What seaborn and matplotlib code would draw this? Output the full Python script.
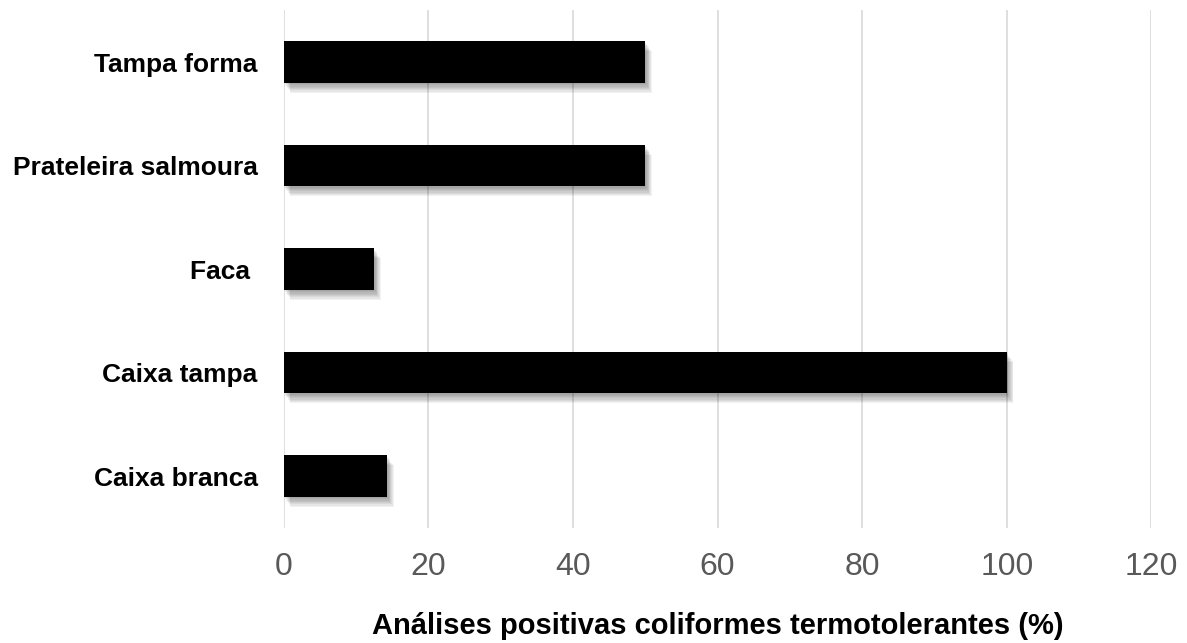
import matplotlib
matplotlib.use("Agg")
import matplotlib.pyplot as plt
import matplotlib.patheffects as pe
import seaborn as sns
import pandas as pd

categories = ["Tampa forma", "Prateleira salmoura", "Faca ", "Caixa tampa", "Caixa branca"]
values = [50.0, 50.0, 12.5, 100.0, 14.3]
x_ticks = [0, 20, 40, 60, 80, 100, 120]
x_label = "Análises positivas coliformes termotolerantes (%)"

sns.set_theme(style="white")
plt.rcParams["font.family"] = ["Liberation Sans", "DejaVu Sans"]

df = pd.DataFrame({"local": categories, "pct": values})

fig = plt.figure(figsize=(11.87, 6.43), dpi=100)
ax = fig.add_axes([0.239, 0.179, 0.731, 0.805])

sns.barplot(data=df, y="local", x="pct", orient="h", color="black",
            width=0.4, order=categories, ax=ax, zorder=3)

# soft, diffuse drop shadow under each bar
shadow = []
for k in range(8, 0, -1):
    shadow.append(pe.SimplePatchShadow(offset=(k * 0.6, -k * 0.9),
                                       shadow_rgbFace="#000000", alpha=0.05))
shadow.append(pe.Normal())
for p in ax.patches:
    p.set_edgecolor("none")
    p.set_path_effects(shadow)

ax.set_xlim(0, 120)
ax.set_ylim(4.5, -0.5)
ax.set_xticks(x_ticks)
ax.set_xticklabels([str(t) for t in x_ticks], fontsize=23, color="#595959")
ax.tick_params(axis="x", pad=17, length=0)
ax.tick_params(axis="y", pad=18.7, length=0)
for lbl in ax.get_yticklabels():
    lbl.set_fontsize(19)
    lbl.set_fontweight("bold")
    lbl.set_color("black")

ax.xaxis.grid(True, color="#d9d9d9", linewidth=1.2, zorder=0)
ax.yaxis.grid(False)
ax.set_axisbelow(True)
for s in ax.spines.values():
    s.set_visible(False)

ax.set_ylabel("")
ax.set_xlabel(x_label, fontsize=21, fontweight="bold", color="black", labelpad=22)

fig.savefig("out.png", dpi=100)
